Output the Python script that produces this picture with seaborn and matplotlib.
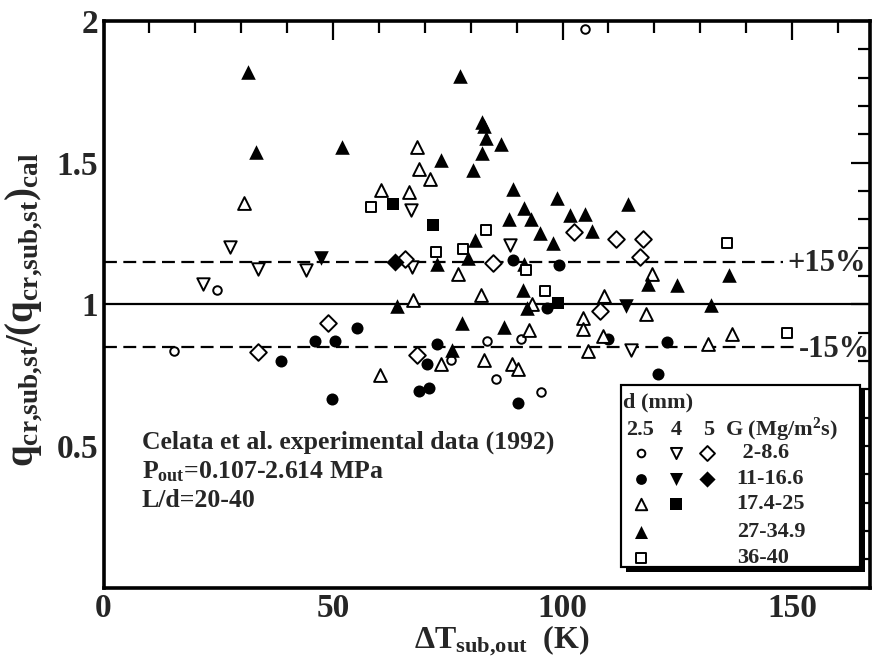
import matplotlib
matplotlib.use("Agg")
import matplotlib.pyplot as plt
from matplotlib.patches import Rectangle
import pandas as pd
import seaborn as sns

# d = 2.5 mm
oc_x = [105.0, 24.7, 15.4, 83.6, 90.9, 75.6, 85.4, 95.3]                    # G 2-8.6
oc_y = [1.973, 1.049, 0.835, 0.871, 0.879, 0.805, 0.735, 0.691]
fc_x = [46.1, 50.4, 38.6, 49.8, 55.2, 89.2, 99.2, 96.7, 72.7, 70.5, 68.8, 70.8,
        90.4, 110.0, 122.8, 120.9]                                             # G 11-16.6
fc_y = [0.869, 0.869, 0.80, 0.667, 0.917, 1.155, 1.14, 0.987, 0.861, 0.791, 0.694,
        0.706, 0.653, 0.879, 0.867, 0.753]
ot_x = [30.7, 68.4, 68.7, 71.1, 60.5, 66.6, 77.3, 82.2, 67.5, 93.4, 104.4, 104.4,
        92.7, 73.5, 83.0, 89.1, 90.2, 60.2, 119.4, 109.1, 118.2, 108.9, 105.5,
        131.8, 137.0]                                                          # G 17.4-25
ot_y = [1.359, 1.555, 1.476, 1.441, 1.402, 1.396, 1.106, 1.034, 1.017, 1.0, 0.953,
        0.914, 0.908, 0.788, 0.802, 0.791, 0.77, 0.749, 1.106, 1.028, 0.967, 0.887,
        0.834, 0.861, 0.894]
ft_x = [31.4, 33.2, 52.0, 77.7, 82.4, 82.9, 83.3, 86.7, 82.4, 73.5, 80.6, 89.3,
        98.9, 91.7, 101.6, 104.9, 88.4, 93.1, 114.3, 95.1, 97.9, 106.4, 80.9, 72.7,
        79.5, 91.5, 91.3, 63.9, 92.3, 78.0, 87.3, 75.9, 118.6, 124.9, 136.2, 132.3]  # G 27-34.9
ft_y = [1.82, 1.537, 1.557, 1.805, 1.643, 1.628, 1.588, 1.567, 1.534, 1.51, 1.475,
        1.407, 1.376, 1.341, 1.314, 1.32, 1.30, 1.30, 1.355, 1.253, 1.216, 1.258,
        1.228, 1.144, 1.165, 1.144, 1.052, 0.993, 0.988, 0.935, 0.92, 0.838, 1.073,
        1.067, 1.102, 0.999]
os_x = [58.2, 83.3, 78.4, 72.4, 92.1, 96.2, 135.9, 149.0]                     # G 36-40
os_y = [1.343, 1.263, 1.194, 1.185, 1.12, 1.046, 1.216, 0.90]
# d = 4 mm
ov_x = [67.0, 27.6, 33.6, 44.1, 21.6, 88.6, 67.1, 114.9]                       # G 2-8.6
ov_y = [1.334, 1.202, 1.126, 1.12, 1.073, 1.211, 1.132, 0.84]
fv_x = [47.4, 113.8]                                                           # G 11-16.6
fv_y = [1.163, 0.993]
fs_x = [63.0, 71.7, 99.1]                                                      # G 17.4-25
fs_y = [1.355, 1.281, 1.005]
# d = 5 mm
od_x = [48.8, 33.6, 102.4, 65.7, 84.8, 68.2, 111.6, 117.6, 116.9, 108.2]       # G 2-8.6
od_y = [0.934, 0.832, 1.255, 1.159, 1.146, 0.82, 1.232, 1.232, 1.167, 0.976]
fd_x = [63.5]                                                                  # G 11-16.6
fd_y = [1.149]

g_labels = [" 2-8.6", "11-16.6", "17.4-25", "27-34.9", "36-40"]

series = [
    ("oc", oc_x, oc_y), ("fc", fc_x, fc_y), ("ot", ot_x, ot_y), ("ft", ft_x, ft_y),
    ("os", os_x, os_y), ("ov", ov_x, ov_y), ("fv", fv_x, fv_y), ("fs", fs_x, fs_y),
    ("od", od_x, od_y), ("fd", fd_x, fd_y),
]
df = pd.concat([pd.DataFrame({"x": x, "y": y, "grp": k}) for k, x, y in series],
               ignore_index=True)

# marker, filled, size
styles = {
    "oc": ("o", False, 38), "fc": ("o", True, 75),
    "ot": ("^", False, 85), "ft": ("^", True, 110),
    "os": ("s", False, 55),
    "ov": ("v", False, 80), "fv": ("v", True, 110), "fs": ("s", True, 80),
    "od": ("D", False, 72), "fd": ("D", True, 85),
}

sns.set_style("white")
plt.rcParams["font.family"] = ["Liberation Serif", "DejaVu Serif"]
plt.rcParams["font.weight"] = "bold"
plt.rcParams["axes.labelweight"] = "bold"
plt.rcParams["mathtext.fontset"] = "custom"
plt.rcParams["mathtext.rm"] = "Liberation Serif:bold"
plt.rcParams["mathtext.it"] = "Liberation Serif:bold"
plt.rcParams["mathtext.bf"] = "Liberation Serif:bold"

fig, ax = plt.subplots(figsize=(8.79, 6.58), dpi=100)
fig.subplots_adjust(left=0.1178, right=0.9898, bottom=0.107, top=0.968)

ax.axhline(1.0, color="black", lw=1.6, zorder=1)
ax.hlines([1.15], 0, 148, colors="black", lw=1.6, linestyles=[(0, (5.8, 2.9))], zorder=1)
ax.hlines([0.85], 0, 151, colors="black", lw=1.6, linestyles=[(0, (5.8, 2.9))], zorder=1)
ax.text(149.0, 1.145, "+15%", fontsize=22, ha="left", va="center")
ax.text(151.5, 0.84, "-15%", fontsize=22, ha="left", va="center")

for k, _, _ in series:
    m, filled, s = styles[k]
    sns.scatterplot(data=df[df.grp == k], x="x", y="y", ax=ax, marker=m, s=s,
                    facecolor="black" if filled else "white", edgecolor="black",
                    linewidth=0 if filled else 1.4, legend=False, zorder=3)

ax.set_xlim(0, 167)
ax.set_ylim(0, 2)
ax.set_xticks([0, 50, 100, 150])
ax.set_xticks(range(0, 170, 10), minor=True)
ax.set_yticks([0, 0.5, 1, 1.5, 2])
ax.set_yticklabels(["", "0.5", "1", "1.5", "2"])
ax.set_yticks([i / 10 for i in range(21)], minor=True)
ax.tick_params(which="both", direction="in", top=True, right=True, width=1.6,
               labelsize=24, color="black")
ax.tick_params(which="major", length=14, pad=4)
ax.tick_params(which="minor", length=8.5)
plt.setp(ax.get_xticklabels() + ax.get_yticklabels(), fontweight="bold")
for sp in ax.spines.values():
    sp.set_linewidth(2.6)
    sp.set_color("black")

ax.set_xlabel(r"$\Delta$T$_{\mathrm{sub{,}out}}$  (K)", fontsize=23)
ax.xaxis.set_label_coords(0.52, -0.062)
ax.set_ylabel(r"q$_{\mathrm{cr{,}sub{,}st}}$/(q$_{\mathrm{cr{,}sub{,}st}}$)$_{\mathrm{cal}}$",
              fontsize=28)
ax.yaxis.set_label_coords(-0.077, 0.49)

ax.text(8.3, 0.514, "Celata et al. experimental data (1992)", fontsize=18.5, va="center")
ax.text(8.3, 0.408, r"P$_{\mathrm{out}}$=0.107-2.614 MPa", fontsize=18.5, va="center")
ax.text(8.3, 0.308, "L/d=20-40", fontsize=18.5, va="center")

# legend box with shadow
bx0, by0, bw, bh = 0.675, 0.036, 0.312, 0.321
ax.add_patch(Rectangle((bx0 + 0.0065, by0 - 0.009), bw, bh, transform=ax.transAxes,
                       facecolor="black", edgecolor="none", zorder=5, clip_on=False))
box = Rectangle((bx0, by0), bw, bh, transform=ax.transAxes, facecolor="white",
                edgecolor="black", lw=1.5, zorder=6, clip_on=False)
ax.add_patch(box)
ax.add_patch(Rectangle((bx0, by0), bw, bh, transform=ax.transAxes, facecolor="none",
                       edgecolor="black", lw=1.5, zorder=9, clip_on=False))
ax.text(0.678, 0.326, "d (mm)", transform=ax.transAxes, fontsize=16, va="center", zorder=7)
for t, xc in [("2.5", 0.700), ("4", 0.747), ("5", 0.789)]:
    ax.text(xc, 0.278, t, transform=ax.transAxes, fontsize=16, va="center",
            ha="center", zorder=7)
ax.text(0.811, 0.278, r"G (Mg/m$^{2}$s)", transform=ax.transAxes, fontsize=16,
        va="center", zorder=7)
rows_y = [0.238, 0.191, 0.147, 0.098, 0.052]
cols_x = [0.701, 0.747, 0.787]
legend_keys = [["oc", "ov", "od"], ["fc", "fv", "fd"], ["ot", "fs"], ["ft"], ["os"]]
for ry, keys, lab in zip(rows_y, legend_keys, g_labels):
    for cx, k in zip(cols_x, keys):
        m, filled, s = styles[k]
        ax.scatter([cx], [ry], transform=ax.transAxes, marker=m, s=s * 0.8,
                   facecolor="black" if filled else "white", edgecolor="black",
                   linewidth=0 if filled else 1.4, zorder=7, clip_on=False)
    t = ax.text(0.826, ry, lab, transform=ax.transAxes, fontsize=16, va="center", zorder=7)
    t.set_clip_path(box)

fig.savefig("out.png", dpi=100)
